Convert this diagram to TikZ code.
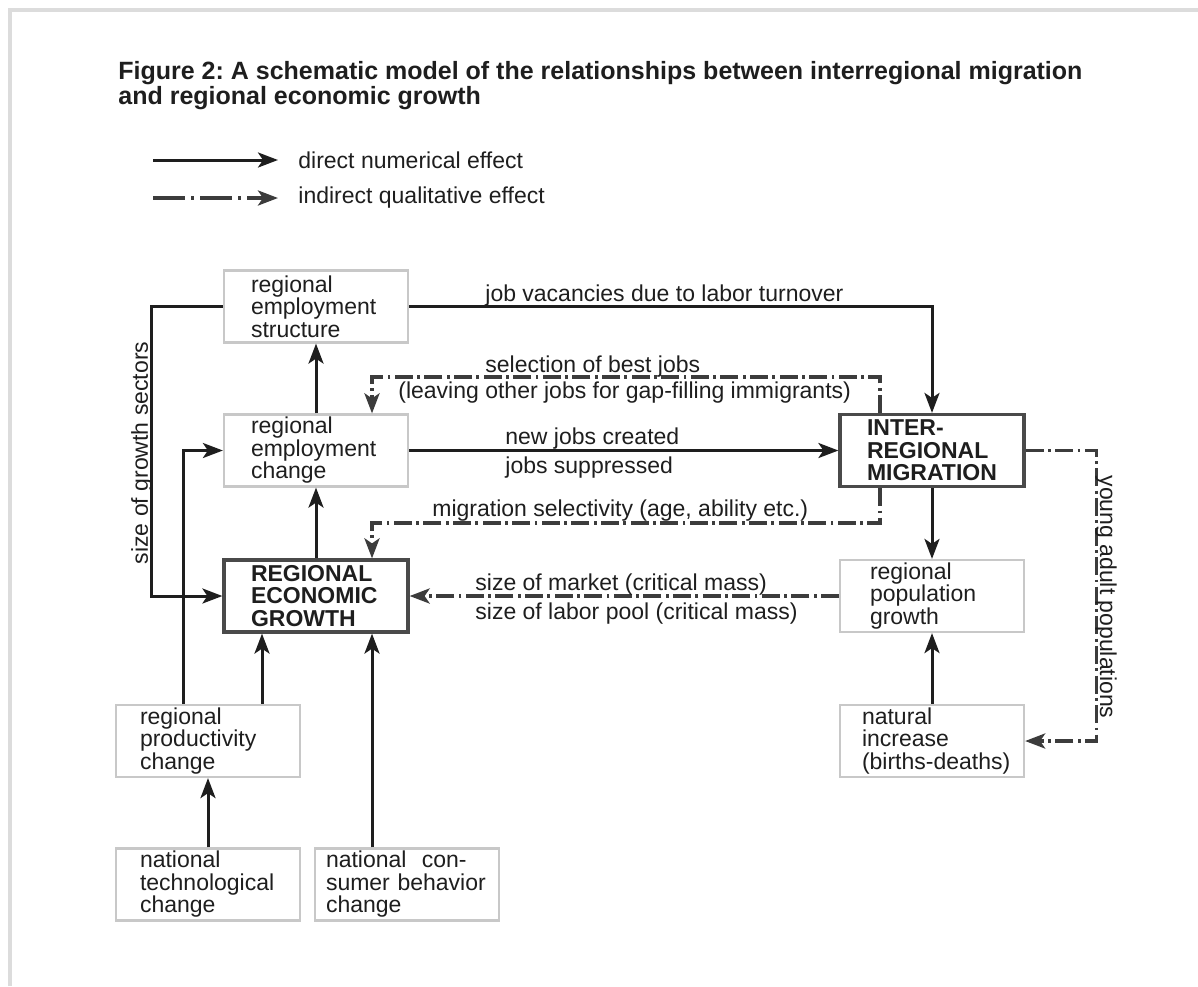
\documentclass[tikz,border=0pt]{standalone}
\usepackage{fontspec}
\setmainfont{Liberation Sans}
\usetikzlibrary{arrows.meta, positioning, calc}
\definecolor{inkgray}{HTML}{1E1E1E}
\definecolor{dashgray}{HTML}{3C3C3C}
\definecolor{boxgray}{HTML}{C8C8C8}
\definecolor{boldgray}{HTML}{4A4A4A}
\definecolor{framegray}{HTML}{DCDCDC}
\newcommand{\diagfont}{\fontsize{11.5}{11.25}\selectfont}

\tikzset{
  plainbox/.style={draw=boxgray, line width=1.1pt, minimum width=92pt, minimum height=36pt,
    text width=65pt, align=left, inner xsep=0pt, inner ysep=0pt, font=\diagfont, text=inkgray},
  boldbox/.style={plainbox, draw=boldgray, line width=1.6pt, font=\bfseries\diagfont},
  direct/.style={draw=inkgray, line width=1.5pt, -{Stealth[length=10pt,width=7.5pt,inset=2.5pt]}},
  indirect/.style={direct, draw=dashgray, line width=1.8pt, dash pattern=on 9pt off 2.2pt on 1.4pt off 2.2pt},
  legindirect/.style={indirect, dash pattern=on 16pt off 3pt on 1.5pt off 3pt},
  lbl/.style={inner sep=0pt, font=\diagfont, text=inkgray},
}

\begin{document}
\begin{tikzpicture}[x=0.5pt, y=-0.5pt]
  \useasboundingbox (0,0) rectangle (1198,986);
  % page frame
  \draw[framegray, line width=2pt] (10,986) -- (10,10) -- (1198,10);

  % title
  \node[anchor=north west, inner sep=0pt, align=left, text=inkgray,
        font=\bfseries\fontsize{12.5}{11}\selectfont\frenchspacing] (title) at (118,61)
    {Figure 2: A schematic model of the relationships between interregional migration\\and regional economic growth};

  % legend
  \node[lbl, anchor=west] (legdirect) at (298,160) {direct numerical effect};
  \node[lbl, anchor=west] (legindirect) at (298,198) {indirect qualitative effect};
  \coordinate (legdirectstart) at (153,160);
  \coordinate (legindirectstart) at (153,198);
  \draw[direct] (legdirectstart) -- ([xshift=-10pt]legdirect.west);
  \draw[legindirect] (legindirectstart) -- ([xshift=-10pt]legindirect.west);

  % boxes
  \node[plainbox] (res) at (316,306.5) {regional\\employment\\structure};
  \node[plainbox] (rec) at (316,450.5) {regional\\employment\\change};
  \node[boldbox] (reg) at (316,596) {REGIONAL\\ECONOMIC\\GROWTH};
  \node[boldbox] (mig) at (932,450.5) {INTER-\\REGIONAL\\MIGRATION};
  \node[plainbox, text width=62pt] (rpg) at (932,596) {regional\\population\\growth};
  \node[plainbox, text width=70pt] (nat) at (932,741) {natural\\increase\\\mbox{(births-deaths)}};
  \node[plainbox, text width=68pt] (prod) at (208,741) {regional\\productivity\\change};
  \node[plainbox, text width=68pt] (tech) at (208,884.5) {national\\technological\\change};
  \node[plainbox, text width=81pt] (cons) at (407,884.5) {national\ \ con-\\sumer behavior\\change};

  % direct effects
  \draw[direct] (res) -| (mig);
  \draw[direct] (rec) -- (res);
  \draw[direct] (reg) -- (rec);
  \draw[direct] (rec) -- (mig);
  \draw[direct] (mig) -- (rpg);
  \draw[direct] (nat) -- (rpg);
  \draw[direct] (res.west) -- ++(-71,0) |- (reg.west);
  \draw[direct] ([xshift=-12.5pt]prod.north) |- (rec.west);
  \draw[direct] ([xshift=27pt]prod.north) -- ([xshift=27pt]prod.north |- reg.south);
  \draw[direct] (tech) -- (prod);
  \draw[direct] ([xshift=-17.5pt]cons.north) -- ([xshift=-17.5pt]cons.north |- reg.south);

  % indirect effects
  \draw[indirect] ([xshift=-26pt]mig.north) -- ++(0,-36) -| ([xshift=28pt]rec.north);
  \draw[indirect] ([xshift=-26pt]mig.south) -- ++(0,35) -| ([xshift=28pt]reg.north);
  \draw[indirect] (rpg) -- (reg);
  \draw[indirect] (mig.east) -- ++(71,0) |- (nat.east);

  % connector labels
  \node[lbl, anchor=south west] (vacancylbl) at (485,306.5) {job vacancies due to labor turnover};
  \node[lbl, anchor=south west] (bestjobslbl) at (485,378) {selection of best jobs};
  \node[lbl, anchor=north west, inner ysep=1.5pt] (leavinglbl) at (398,378) {(leaving other jobs for gap-filling immigrants)};
  \node[lbl, anchor=south west, inner ysep=0.5pt] (newjobslbl) at (505,450.5) {new jobs created};
  \node[lbl, anchor=north west, inner ysep=3pt] (suppressedlbl) at (505,450.5) {jobs suppressed};
  \node[lbl, anchor=south west] (selectivitylbl) at (432,522) {migration selectivity (age, ability etc.)};
  \node[lbl, anchor=south west] (marketlbl) at (475,596) {size of market (critical mass)};
  \node[lbl, anchor=north west, inner ysep=3pt] (laborpoollbl) at (475,596) {size of labor pool (critical mass)};
  \node[lbl, rotate=90, anchor=south] (sectorlbl) at (153,453) {size of growth sectors};
  \node[lbl, rotate=-90, anchor=south] (younglbl) at (1095,597) {young adult populations};
\end{tikzpicture}
\end{document}
